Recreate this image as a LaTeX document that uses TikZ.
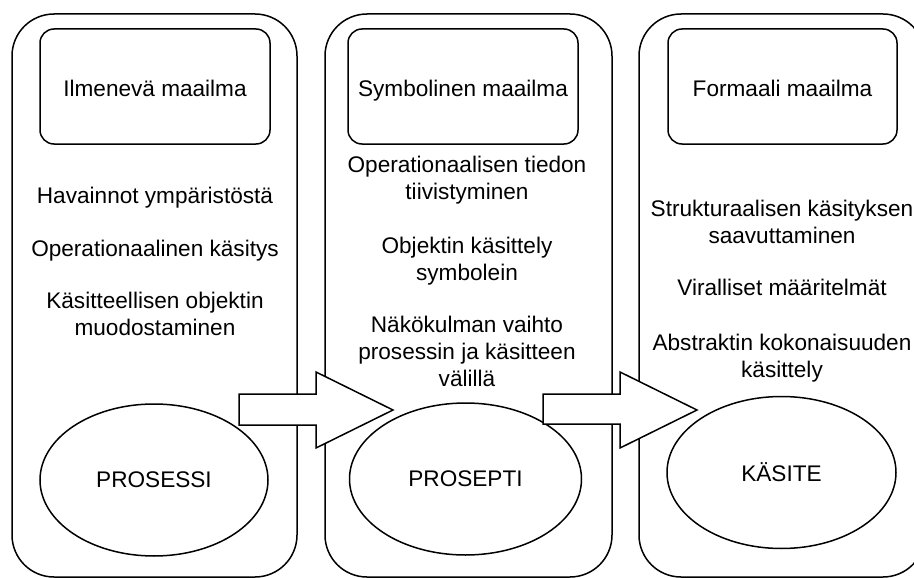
\documentclass[tikz,border=0pt]{standalone}
\usepackage{fontspec}
\setmainfont{Liberation Sans}
\usetikzlibrary{shapes.geometric}
\begin{document}
\begin{tikzpicture}[x=1pt,y=-1pt,
  every node/.style={font=\fontsize{22.6}{27}\selectfont},
  panel/.style={draw,line width=1.5pt,rounded corners=42pt,fill=white,inner sep=0pt},
  titlebox/.style={draw,line width=1.5pt,rounded corners=14pt,fill=white,inner sep=0pt,
    minimum height=115pt,text height=21pt,text depth=0pt},
  body/.style={align=center,anchor=base,inner sep=0pt},
  stage/.style={draw,ellipse,line width=1.5pt,fill=white,inner sep=0pt,
    minimum width=228pt,minimum height=152pt},
  blockarrow/.style={draw,line width=1.5pt,fill=white,line join=miter}]
\useasboundingbox (0,0) rectangle (914,578);
\clip (0,0) rectangle (914,578);
% panels
\node[panel,minimum width=285pt,minimum height=563pt] (p1) at (154.5,295.5) {};
\node[panel,minimum width=287pt,minimum height=563pt] (p2) at (468.5,295.5) {};
\node[panel,minimum width=286pt,minimum height=563pt] (p3) at (782,295.5) {};
% title boxes
\node[titlebox,minimum width=230pt] (t1) at (155,86.5) {Ilmenevä maailma};
\node[titlebox,minimum width=230pt] (t2) at (463,86.5) {Symbolinen maailma};
\node[titlebox,minimum width=229pt] (t3) at (782.5,86.5) {Formaali maailma};
% panel 1 texts (anchor = baseline of the last line)
\node[body] (a1) at (155,203) {Havainnot ympäristöstä};
\node[body] (a2) at (155,256) {Operationaalinen käsitys};
\node[body] (a3) at (155,335) {Käsitteellisen objektin\\muodostaminen};
% panel 2 texts
\node[body] (b1) at (467,199) {Operationaalisen tiedon\\tiivistyminen};
\node[body] (b2) at (467,280) {Objektin käsittely\\symbolein};
\node[body] (b3) at (467,386) {Näkökulman vaihto\\prosessin ja käsitteen\\välillä};
% panel 3 texts
\node[body] (c1) at (782,243) {Strukturaalisen käsityksen\\saavuttaminen};
\node[body] (c2) at (782,295) {Viralliset määritelmät};
\node[body] (c3) at (782,377) {Abstraktin kokonaisuuden\\käsittely};
% stages
\node[stage] (e1) at (154,480) {PROSESSI};
\node[stage,minimum width=232pt] (e2) at (465.5,479) {PROSEPTI};
\node[stage,minimum width=229pt] (e3) at (781.5,472.5) {KÄSITE};
% block arrows
\draw[blockarrow] (239,394) -- (316,394) -- (316,372) -- (393,410) -- (316,448) -- (316,425) -- (239,425) -- cycle;
\draw[blockarrow] (543,394) -- (620,394) -- (620,372) -- (697,410) -- (620,448) -- (620,424) -- (543,424) -- cycle;
\end{tikzpicture}
\end{document}
